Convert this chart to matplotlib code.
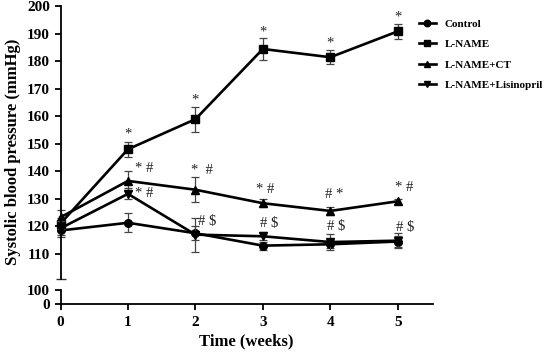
import matplotlib
matplotlib.use("Agg")
import matplotlib.pyplot as plt

plt.rcParams["font.family"] = ["Liberation Serif", "DejaVu Serif"]
plt.rcParams["font.weight"] = "bold"

weeks = [0, 1, 2, 3, 4, 5]
labels = ["Control", "L-NAME", "L-NAME+CT", "L-NAME+Lisinopril"]
markers = ["o", "s", "^", "v"]

control = [118.5, 121.3, 117.5, 113.0, 113.5, 114.5]
control_err = [2.5, 3.5, 2.5, 1.5, 1.5, 2.0]
lname = [121.0, 148.0, 158.9, 184.4, 181.4, 190.8]
lname_err = [2.0, 2.8, 4.6, 3.9, 2.6, 2.7]
lname_ct = [123.3, 136.5, 133.3, 128.4, 125.6, 129.1]
lname_ct_err = [2.5, 3.7, 4.5, 1.5, 1.5, 1.0]
lname_lis = [119.3, 131.8, 117.0, 116.4, 114.3, 114.8]
lname_lis_err = [2.5, 2.0, 6.2, 1.5, 3.0, 2.8]

series = [control, lname, lname_ct, lname_lis]
errors = [control_err, lname_err, lname_ct_err, lname_lis_err]

# significance marks: (week position, y, text)
marks = [
    (1.0, 153.5, "*"), (1.235, 141.1, "* #"), (1.235, 132.0, "* #"),
    (2.0, 165.9, "*"), (2.10, 140.2, "*  #"), (2.175, 121.7, "# $"),
    (3.0, 190.6, "*"), (3.03, 133.5, "* #"), (3.10, 121.1, "# $"),
    (4.0, 186.5, "*"), (4.06, 131.4, "# *"), (4.08, 119.9, "# $"),
    (5.0, 195.9, "*"), (5.10, 134.2, "* #"), (5.11, 119.7, "# $"),
]

fig = plt.figure(figsize=(5.5, 3.53), dpi=100)
ax = fig.add_axes([0.110, 0.2105, 0.677, 0.7725])
axb = fig.add_axes([0.110, 0.1374, 0.677, 0.0402])

handles = []
for y, e, m, lab in zip(series, errors, markers, labels):
    ax.errorbar(weeks, y, yerr=e, fmt="none", ecolor="#444444",
                elinewidth=0.9, capsize=3, capthick=0.9, clip_on=False)
    h, = ax.plot(weeks, y, color="black", lw=1.9, marker=m, ms=5.5,
                 label=lab, clip_on=False)
    handles.append(h)

for x, y, t in marks:
    ax.text(x, y, t, ha="center", va="center", fontsize=10.5,
            color="#222222", fontweight="normal")

ax.set_xlim(0, 5.52)
ax.set_ylim(101, 200)
ax.set_yticks(range(110, 201, 10))
ax.set_xticks([])
for s in ["top", "right", "bottom"]:
    ax.spines[s].set_visible(False)
ax.spines["left"].set_linewidth(1.3)
ax.tick_params(axis="y", direction="out", length=4, width=1.3, labelsize=11)
# cap at the bottom of the upper segment
ax.plot([0], [101], marker="_", ms=7, mew=1.0, color="#333333", clip_on=False)

axb.set_xlim(0, 5.52)
axb.set_ylim(0, 100)
axb.set_yticks([0, 100])
axb.set_xticks(weeks)
for s in ["top", "right"]:
    axb.spines[s].set_visible(False)
axb.spines["left"].set_linewidth(1.3)
axb.spines["bottom"].set_linewidth(1.3)
axb.tick_params(direction="out", length=4, width=1.3, labelsize=11)
axb.tick_params(axis="x", pad=4)
axb.patch.set_alpha(0)

fig.text(0.024, 0.57, "Systolic blood pressure (mmHg)", rotation=90,
         ha="center", va="center", fontsize=12)
fig.text(0.447, 0.034, "Time (weeks)", ha="center", va="center", fontsize=12)

fig.legend(handles=handles, loc="upper left", bbox_to_anchor=(0.762, 0.946),
           frameon=False, fontsize=8.0, handlelength=1.5, handletextpad=0.8,
           labelspacing=0.95, markerscale=0.85, borderpad=0, borderaxespad=0)

fig.savefig("out.png", dpi=100)
